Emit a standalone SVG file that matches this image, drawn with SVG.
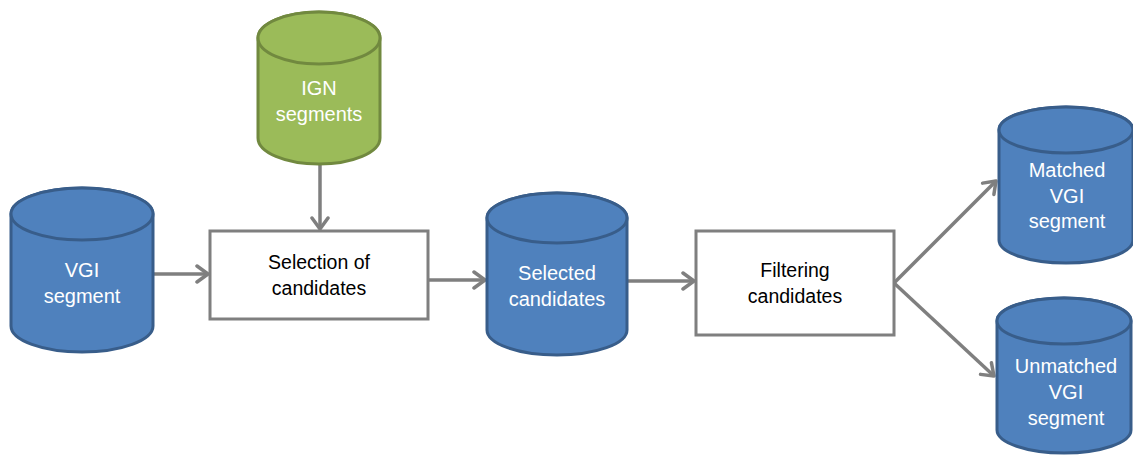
<svg xmlns="http://www.w3.org/2000/svg" width="1133" height="457" viewBox="0 0 1133 457">
<style>
.blue{fill:#4F81BD;stroke:#385D8A;stroke-width:3}
.green{fill:#9BBB59;stroke:#71893F;stroke-width:3}
.box{fill:#FFFFFF;stroke:#7F7F7F;stroke-width:3}
.wt{font-family:"Liberation Sans",Arial,sans-serif;font-size:20px;fill:#FFFFFF;text-anchor:middle}
.bt{font-family:"Liberation Sans",Arial,sans-serif;font-size:19.5px;fill:#000000;text-anchor:middle}
.conn{stroke:#7F7F7F;stroke-width:3.5;fill:none;marker-end:url(#arr)}
</style>
<defs>
<marker id="arr" markerUnits="userSpaceOnUse" markerWidth="16" markerHeight="20" refX="13" refY="10" orient="auto">
<path d="M2,2 L13,10 L2,18" fill="none" stroke="#7F7F7F" stroke-width="3.5" stroke-linecap="round" stroke-linejoin="round"/>
</marker>
</defs>
<rect width="1133" height="457" fill="#FFFFFF"/>
<g id="connectors">
<line class="conn" x1="153" y1="274" x2="208" y2="274"/>
<line class="conn" x1="320" y1="165" x2="320" y2="229"/>
<line class="conn" x1="428" y1="280" x2="485" y2="280"/>
<line class="conn" x1="628" y1="281" x2="694" y2="281"/>
<line class="conn" x1="894" y1="283" x2="996" y2="181"/>
<line class="conn" x1="894" y1="283" x2="994" y2="376"/>
</g>
<g id="ign">
<path class="green" d="M258,38 L258,138 A61,26 0 0 0 380,138 L380,38 A61,26 0 0 0 258,38 Z"/>
<ellipse class="green" cx="319" cy="38" rx="61" ry="26"/>
<text class="wt" x="319" y="95">IGN</text>
<text class="wt" x="319" y="121">segments</text>
</g>
<g id="vgi">
<path class="blue" d="M11,214 L11,326 A71,26 0 0 0 153,326 L153,214 A71,26 0 0 0 11,214 Z"/>
<ellipse class="blue" cx="82" cy="214" rx="71" ry="26"/>
<text class="wt" x="82" y="277">VGI</text>
<text class="wt" x="82" y="303">segment</text>
</g>
<g id="selection">
<rect class="box" x="210" y="231" width="218" height="88"/>
<text class="bt" x="319" y="269">Selection of</text>
<text class="bt" x="319" y="295">candidates</text>
</g>
<g id="selected">
<path class="blue" d="M487,218 L487,330 A70,25 0 0 0 627,330 L627,218 A70,25 0 0 0 487,218 Z"/>
<ellipse class="blue" cx="557" cy="218" rx="70" ry="25"/>
<text class="wt" x="557" y="280">Selected</text>
<text class="wt" x="557" y="306">candidates</text>
</g>
<g id="filtering">
<rect class="box" x="696" y="231" width="198" height="104"/>
<text class="bt" x="795" y="277">Filtering</text>
<text class="bt" x="795" y="303">candidates</text>
</g>
<g id="matched">
<path class="blue" d="M999,130 L999,240 A67,23 0 0 0 1133,240 L1133,130 A67,23 0 0 0 999,130 Z"/>
<ellipse class="blue" cx="1066" cy="130" rx="67" ry="23"/>
<text class="wt" x="1067" y="177">Matched</text>
<text class="wt" x="1067" y="203">VGI</text>
<text class="wt" x="1067" y="228">segment</text>
</g>
<g id="unmatched">
<path class="blue" d="M997,321 L997,430 A67,23 0 0 0 1131,430 L1131,321 A67,23 0 0 0 997,321 Z"/>
<ellipse class="blue" cx="1064" cy="321" rx="67" ry="23"/>
<text class="wt" x="1066" y="373">Unmatched</text>
<text class="wt" x="1066" y="399">VGI</text>
<text class="wt" x="1066" y="425">segment</text>
</g>
</svg>
